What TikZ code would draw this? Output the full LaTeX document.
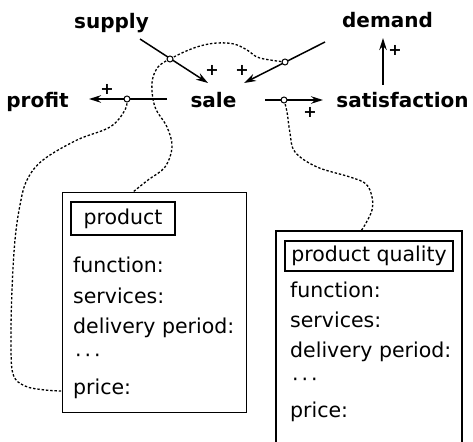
\documentclass[tikz,border=0pt]{standalone}
\usepackage{fontspec}
\setmainfont{DejaVu Sans}
\usetikzlibrary{arrows.meta}
\tikzset{
  lbl/.style={font=\bfseries\fontsize{20}{22}\selectfont, anchor=base, inner sep=0pt},
  txt/.style={font=\fontsize{20.5}{24}\selectfont, anchor=base west, inner sep=0pt},
  ttl/.style={draw, line width=1.4pt, font=\fontsize{20.5}{24}\selectfont, inner sep=0pt},
  plus/.style={font=\bfseries\fontsize{16}{18}\selectfont, inner sep=0pt},
  arr/.style={line width=1.5pt, -{Stealth[length=12pt,width=7.5pt]}},
  junc/.style={circle, draw, fill=white, line width=1pt, minimum size=6pt, inner sep=0pt},
  dotted line/.style={line width=1.3pt, dash pattern=on 2.4pt off 1.9pt},
  framebox/.style={draw, line width=1.3pt, inner sep=0pt},
}
\newcommand{\mydots}{\textperiodcentered\hspace{3pt}\textperiodcentered\hspace{3pt}\textperiodcentered}
\begin{document}
\begin{tikzpicture}[x=1pt,y=-1pt]
\useasboundingbox (0,0) rectangle (473,441);
% labels
\node[lbl] (supply) at (111.5,29) {supply};
\node[lbl] (demand) at (387.5,28) {demand};
\node[lbl] (profit) at (37.5,107) {profit};
\node[lbl] (sale) at (213.5,107) {sale};
\node[lbl] (satis) at (402.5,107) {satisfaction};
% arrow end points
\coordinate (s0) at (140,39);  \coordinate (s1) at (208,83);
\coordinate (d0) at (325,42);  \coordinate (d1) at (244,83);
\coordinate (p0) at (167,99);  \coordinate (p1) at (89,99);
\coordinate (q0) at (265,100); \coordinate (q1) at (323,100);
\coordinate (u0) at (383,85);  \coordinate (u1) at (383,38);
% dotted curves (drawn first)
\coordinate (e1) at (133,192);
\coordinate (e2) at (62,391);
\coordinate (e3) at (361,231);
\draw[dotted line] plot[smooth, tension=0.6] coordinates {(170,59) (184,52) (200,46) (217,43) (234,44) (247,50) (257,57) (270,60) (285,62)};
\draw[dotted line] plot[smooth, tension=0.6] coordinates {(170,59) (158,67) (152,83) (155,107) (167,127) (172,147) (165,167) (148,180) (e1)};
\draw[dotted line] plot[smooth, tension=0.6] coordinates {(127,99) (125,110) (110,127) (77,140) (43,160) (27,180) (20,205) (15,240) (12,290) (11,340) (13,374) (25,386) (45,390) (e2)};
\draw[dotted line] plot[smooth, tension=0.6] coordinates {(284,100) (287,112) (290,133) (295,152) (317,167) (350,177) (366,184) (372,197) (372,210) (366,223) (e3)};
% arrows
\draw[arr] (s0) -- (s1);
\draw[arr] (d0) -- (d1);
\draw[arr] (p0) -- (p1);
\draw[arr] (q0) -- (q1);
\draw[arr] (u0) -- (u1);
% junctions
\node[junc] (j1) at (170,59) {};
\node[junc] (j2) at (285,62) {};
\node[junc] (j3) at (127,99) {};
\node[junc] (j4) at (284,100) {};
% plus signs
\node[plus] (pl1) at (212,70) {+};
\node[plus] (pl2) at (242,70) {+};
\node[plus] (pl3) at (107,89) {+};
\node[plus] (pl4) at (310,112) {+};
\node[plus] (pl5) at (395,50) {+};
% product box
\node[framebox, anchor=north west, minimum width=184pt, minimum height=220pt] (prod) at (62,192) {};
\node[ttl, minimum width=104pt, minimum height=33pt] (prodt) at (123,218.5) {product};
\node[txt] (f1) at (73,272) {function:};
\node[txt] (s1t) at (73,303) {services:};
\node[txt] (d1t) at (73,333) {delivery period:};
\node[txt] (e1t) at (75,362) {\mydots};
\node[txt] (pr1) at (73,394) {price:};
% product quality box
\draw[line width=1.3pt] (276,445) -- (276,231) -- (462,231) -- (462,445);
\node[ttl, minimum width=168pt, minimum height=30pt] (pqt) at (369,256) {product quality};
\node[txt] (f2) at (290,297) {function:};
\node[txt] (s2t) at (290,327) {services:};
\node[txt] (d2t) at (290,357) {delivery period:};
\node[txt] (e2t) at (292,386) {\mydots};
\node[txt] (pr2) at (290,417) {price:};
\end{tikzpicture}
\end{document}
